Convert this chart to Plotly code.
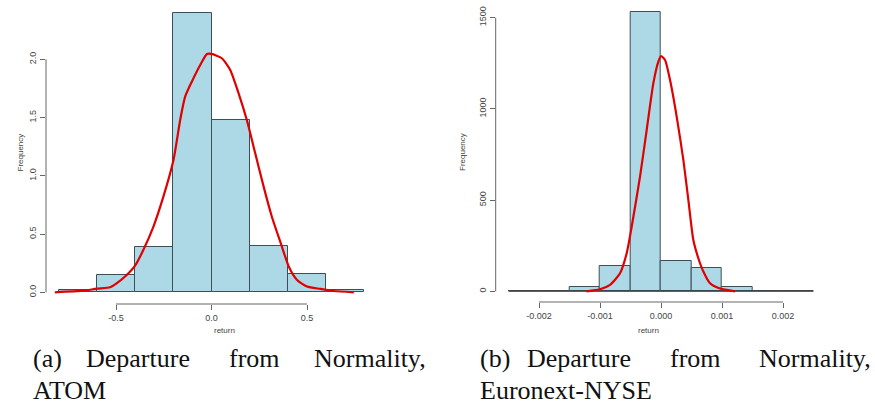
import plotly.graph_objects as go

W, H = 875, 405

# ---------------- data ----------------
# Panel (a) ATOM
atom_edges = [-0.8, -0.6, -0.4, -0.2, 0.0, 0.2, 0.4, 0.6, 0.8]
atom_freq = [0.02, 0.145, 0.385, 2.40, 1.479, 0.395, 0.157, 0.02]
atom_dens_x = [-0.82, -0.671, -0.601, -0.531, -0.497, -0.444, -0.40, -0.357, -0.304, -0.252,
               -0.199, -0.164, -0.138, -0.103, -0.059, -0.024, 0.0, 0.054, 0.098, 0.142,
               0.185, 0.229, 0.273, 0.316, 0.363, 0.405, 0.448, 0.5, 0.57, 0.64, 0.745]
atom_dens_y = [0.0, 0.014, 0.031, 0.043, 0.077, 0.149, 0.229, 0.363, 0.564, 0.821,
               1.136, 1.479, 1.679, 1.808, 1.951, 2.046, 2.046, 2.009, 1.909, 1.708,
               1.479, 1.193, 0.907, 0.649, 0.42, 0.22, 0.106, 0.049, 0.029, 0.011, 0.0]
atom_xticks = [-0.5, 0.0, 0.5]
atom_xticklabels = ["-0.5", "0.0", "0.5"]
atom_yticks = [0.0, 0.5, 1.0, 1.5, 2.0]
atom_yticklabels = ["0.0", "0.5", "1.0", "1.5", "2.0"]

# Panel (b) Euronext-NYSE
nyse_edges = [-0.0025, -0.002, -0.0015, -0.001, -0.0005, 0.0, 0.0005, 0.001, 0.0015, 0.002, 0.0025]
nyse_freq = [0, 4, 22, 137, 1531, 164, 130, 22, 4, 0]
nyse_dens_x = [-0.001219, -0.001, -0.000836, -0.000672, -0.000563, -0.000481, -0.000344,
               -0.000235, -0.000126, -0.000044, 0.0, 0.000066, 0.000148, 0.000257, 0.000366,
               0.000448, 0.00053, 0.000612, 0.000694, 0.000803, 0.000967, 0.001213]
nyse_dens_y = [0, 11, 35, 99, 208, 354, 629, 884, 1140, 1259, 1290, 1268, 1158, 957, 720,
               501, 281, 181, 108, 44, 15, 0]
nyse_xticks = [-0.002, -0.001, 0.0, 0.001, 0.002]
nyse_xticklabels = ["-0.002", "-0.001", "0.000", "0.001", "0.002"]
nyse_yticks = [0, 500, 1000, 1500]
nyse_yticklabels = ["0", "500", "1000", "1500"]

x_title = "return"
y_title = "Frequency"
caption_a_line1 = ["(a)", "Departure", "from", "Normality,"]
caption_a_line2 = "ATOM"
caption_b_line1 = ["(b)", "Departure", "from", "Normality,"]
caption_b_line2 = "Euronext-NYSE"

# ---------------- styles ----------------
BAR_FILL = "#ADD8E6"
BAR_EDGE = "#3f4d54"
CURVE = "#e00000"
AXIS_COL = "#666666"
TXT_COL = "#444444"
SANS = "Liberation Sans, Arial, sans-serif"
SERIF = "Liberation Serif, Times New Roman, serif"


def px_x(p):
    return p / W


def px_y(p):
    return (H - p) / H


fig = go.Figure()


def add_hist(edges, freq, xa, ya):
    centers = [(edges[i] + edges[i + 1]) / 2 for i in range(len(freq))]
    widths = [edges[i + 1] - edges[i] for i in range(len(freq))]
    fig.add_trace(go.Bar(x=centers, y=freq, width=widths, xaxis=xa, yaxis=ya,
                         marker=dict(color=BAR_FILL, line=dict(color=BAR_EDGE, width=1)),
                         showlegend=False, hoverinfo="skip"))


add_hist(atom_edges, atom_freq, "x", "y")
fig.add_trace(go.Scatter(x=atom_dens_x, y=atom_dens_y, mode="lines", xaxis="x", yaxis="y",
                         line=dict(color=CURVE, width=2.2, shape="spline", smoothing=0.6),
                         showlegend=False, hoverinfo="skip"))

add_hist(nyse_edges, nyse_freq, "x2", "y2")
# baseline of the (empty) histogram cells
fig.add_trace(go.Scatter(x=[nyse_edges[0], nyse_edges[-1]], y=[0, 0], mode="lines",
                         xaxis="x2", yaxis="y2", line=dict(color="#333333", width=1),
                         showlegend=False, hoverinfo="skip"))
fig.add_trace(go.Scatter(x=nyse_dens_x, y=nyse_dens_y, mode="lines", xaxis="x2", yaxis="y2",
                         line=dict(color=CURVE, width=2.2, shape="spline", smoothing=0.6),
                         showlegend=False, hoverinfo="skip"))

# ---------------- axes ----------------
dom_a_x = [px_x(46), px_x(377)]
dom_a_y = [px_y(304), px_y(7)]
dom_b_x = [px_x(495.7), px_x(830)]
dom_b_y = [px_y(302), px_y(7)]

common_x = dict(showgrid=False, zeroline=False, showline=False, ticks="outside", ticklen=5,
                tickwidth=1, tickcolor=AXIS_COL, tickfont=dict(family=SANS, size=9, color=TXT_COL))
common_y = dict(common_x, tickangle=-90)

fig.update_layout(
    xaxis=dict(common_x, domain=dom_a_x, range=[-0.8665, 0.8665], anchor="y",
               tickvals=atom_xticks, ticktext=atom_xticklabels),
    yaxis=dict(common_y, domain=dom_a_y, range=[-0.1004, 2.449], anchor="x",
               tickvals=atom_yticks, ticktext=atom_yticklabels),
    xaxis2=dict(common_x, domain=dom_b_x, range=[-0.00271, 0.00277], anchor="y2",
                tickvals=nyse_xticks, ticktext=nyse_xticklabels),
    yaxis2=dict(common_y, domain=dom_b_y, range=[-58.7, 1558.6], anchor="x2",
                tickvals=nyse_yticks, ticktext=nyse_yticklabels),
)

shapes = []
# R-style axis lines spanning only the tick range
for xa, ya, xt, yt, dx, dy in [("x", "y", atom_xticks, atom_yticks, dom_a_x, dom_a_y),
                               ("x2", "y2", nyse_xticks, nyse_yticks, dom_b_x, dom_b_y)]:
    shapes.append(dict(type="line", xref=xa, yref="paper", x0=min(xt), x1=max(xt),
                       y0=dy[0], y1=dy[0], line=dict(color=AXIS_COL, width=1)))
    shapes.append(dict(type="line", xref="paper", yref=ya, x0=dx[0], x1=dx[0],
                       y0=min(yt), y1=max(yt), line=dict(color=AXIS_COL, width=1)))

title_font = dict(family=SANS, size=8, color=TXT_COL)
annotations = [
    dict(text=x_title, x=px_x(211.5), y=px_y(337), xref="paper", yref="paper",
         showarrow=False, font=title_font),
    dict(text=x_title, x=px_x(661), y=px_y(337), xref="paper", yref="paper",
         showarrow=False, font=title_font),
    dict(text=y_title, x=px_x(13), y=px_y(153), xref="paper", yref="paper", textangle=-90,
         showarrow=False, font=title_font),
    dict(text=y_title, x=px_x(462), y=px_y(152), xref="paper", yref="paper", textangle=-90,
         showarrow=False, font=title_font),
]

# justified captions
cap_font = dict(family=SERIF, size=26, color="#111111")
line1_y, line2_y = 358, 390
for words, xs in [(caption_a_line1, [31, 84, 227, 312]), (caption_b_line1, [478, 525, 668, 757])]:
    for w, xp in zip(words, xs):
        annotations.append(dict(text=w, x=px_x(xp), y=px_y(line1_y), xref="paper", yref="paper",
                                xanchor="left", yanchor="middle", showarrow=False, font=cap_font))
annotations.append(dict(text=caption_a_line2, x=px_x(31), y=px_y(line2_y), xref="paper", yref="paper",
                        xanchor="left", yanchor="middle", showarrow=False, font=cap_font))
annotations.append(dict(text=caption_b_line2, x=px_x(478), y=px_y(line2_y), xref="paper", yref="paper",
                        xanchor="left", yanchor="middle", showarrow=False, font=cap_font))

fig.update_layout(
    width=W, height=H, margin=dict(l=0, r=0, t=0, b=0),
    paper_bgcolor="white", plot_bgcolor="white",
    bargap=0, shapes=shapes, annotations=annotations,
)

fig.write_html("out.html", config={"displayModeBar": False},
               post_script="document.body.style.margin='0';document.body.style.overflow='hidden';")
